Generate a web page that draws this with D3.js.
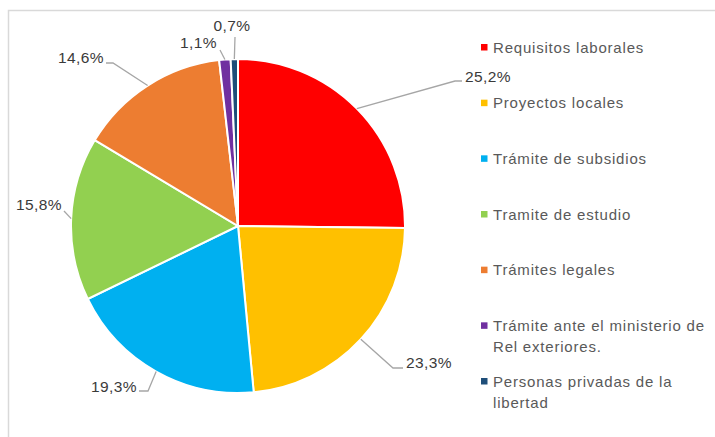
<!DOCTYPE html>
<html>
<head>
<meta charset="utf-8">
<script src="https://cdn.jsdelivr.net/npm/d3@7"></script>
<style>
  body { margin: 0; background: #fff; }
  text { font-family: "Liberation Sans", Arial, sans-serif; }
</style>
</head>
<body>
<div id="chart"></div>
<script>
var width = 715;
var height = 437;

// data
var categories = [ "Requisitos laborales", "Proyectos locales", "Trámite de subsidios",
    "Tramite de estudio", "Trámites legales", "Trámite ante el ministerio de Rel exteriores.",
    "Personas privadas de la libertad" ];
var values = [ 25.2, 23.3, 19.3, 15.8, 14.6, 1.1, 0.7 ];
var labels = [ "25,2%", "23,3%", "19,3%", "15,8%", "14,6%", "1,1%", "0,7%" ];
var legendLines = [ ["Requisitos laborales"], ["Proyectos locales"], ["Trámite de subsidios"],
    ["Tramite de estudio"], ["Trámites legales"], ["Trámite ante el ministerio de", "Rel exteriores."],
    ["Personas privadas de la", "libertad"] ];
var colors = [ "#FF0000", "#FFC000", "#00B0F0", "#92D050", "#ED7D31", "#7030A0", "#1F4E79" ];

// label layout: elbow point, label point, anchor
var labelLayout = [
  { elbow: [455, 81], end: [462, 81], text: [465, 82], anchor: "start" },
  { elbow: [393, 368], end: [403, 368], text: [406, 368], anchor: "start" },
  { elbow: [148, 391], end: [139, 391], text: [137, 392], anchor: "end" },
  { elbow: [64, 211], end: [64, 211], text: [62, 210], anchor: "end" },
  { elbow: [113, 63], end: [106, 63], text: [104, 63], anchor: "end" },
  { elbow: [220, 50], end: [220, 50], text: [217, 48], anchor: "end" },
  { elbow: [235, 37], end: [235, 37], text: [232, 31], anchor: "middle" }
];

var cx = 238, cy = 226, radius = 167;

var svg = d3.select( "#chart" )
    .append( "svg" )
    .attr( "width", width )
    .attr( "height", height );

// chart area border
svg.append( "rect" )
    .attr( "x", 8.5 )
    .attr( "y", 10.5 )
    .attr( "width", 730 )
    .attr( "height", 450 )
    .attr( "fill", "none" )
    .attr( "stroke", "#D9D9D9" )
    .attr( "stroke-width", 1.5 );

var pie = d3.pie().sort( null ).value( function(d){ return d; } );
var arcs = pie( values );

var arc = d3.arc().innerRadius( 0 ).outerRadius( radius );

var g = svg.append( "g" ).attr( "transform", "translate(" + cx + "," + cy + ")" );

g.selectAll( "path" )
    .data( arcs )
    .enter()
    .append( "path" )
    .attr( "fill", function(d, i){ return colors[i]; } )
    .attr( "stroke", "#fff" )
    .attr( "stroke-width", 2 )
    .attr( "d", arc );

// leader lines
svg.selectAll( "polyline.leader" )
    .data( arcs )
    .enter()
    .append( "polyline" )
    .attr( "class", "leader" )
    .attr( "fill", "none" )
    .attr( "stroke", "#A6A6A6" )
    .attr( "stroke-width", 1.3 )
    .attr( "points", function(d, i){
      var a = (d.startAngle + d.endAngle) / 2;
      var p0 = [ cx + radius * Math.sin(a), cy - radius * Math.cos(a) ];
      var L = labelLayout[i];
      return [ p0, L.elbow, L.end ].map(function(p){ return p.join(","); }).join(" ");
    });

svg.selectAll( "text.lbl" )
    .data( labels )
    .enter()
    .append( "text" )
    .attr( "class", "lbl" )
    .attr( "x", function(d, i){ return labelLayout[i].text[0]; } )
    .attr( "y", function(d, i){ return labelLayout[i].text[1]; } )
    .attr( "text-anchor", function(d, i){ return labelLayout[i].anchor; } )
    .attr( "font-size", "15.5px" )
    .attr( "letter-spacing", "0.4px" )
    .attr( "fill", "#3A3A3A" )
    .text( function(d){ return d; } );

// legend
var legendY = d3.scalePoint().domain( categories ).range( [47, 381] );

var legend = svg.selectAll( "g.legend" )
    .data( categories )
    .enter()
    .append( "g" )
    .attr( "class", "legend" )
    .attr( "transform", function(d){ return "translate(481," + legendY(d) + ")"; } );

legend.append( "rect" )
    .attr( "x", 0 )
    .attr( "y", -3 )
    .attr( "width", 6.5 )
    .attr( "height", 6.5 )
    .attr( "fill", function(d, i){ return colors[i]; } );

legend.append( "text" )
    .attr( "x", 12 )
    .attr( "y", 5.5 )
    .attr( "font-size", "15px" )
    .attr( "letter-spacing", "0.8px" )
    .attr( "fill", "#595959" )
    .selectAll( "tspan" )
    .data( function(d, i){ return legendLines[i]; } )
    .enter()
    .append( "tspan" )
    .attr( "x", 12 )
    .attr( "dy", function(d, j){ return j === 0 ? 0 : 21; } )
    .text( function(d){ return d; } );
</script>
</body>
</html>
